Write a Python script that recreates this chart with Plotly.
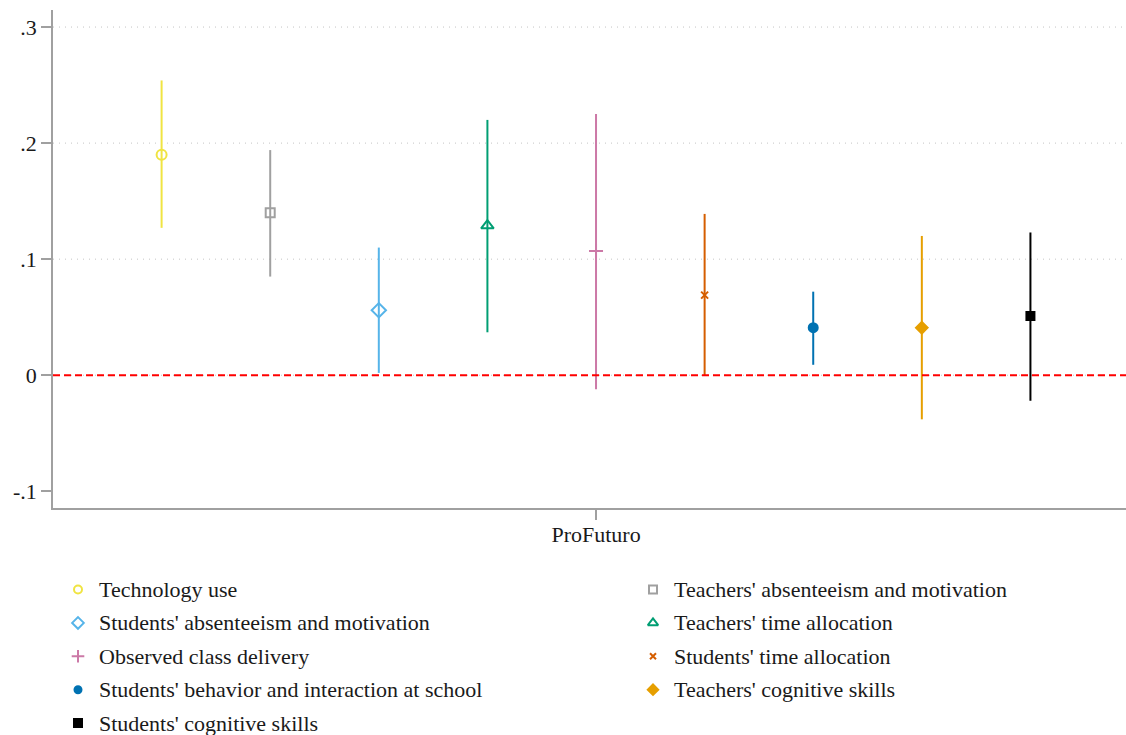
import plotly.graph_objects as go

# Outcome families estimated for ProFuturo: point estimate and 95% CI bounds
outcomes = [
    "Technology use",
    "Teachers' absenteeism and motivation",
    "Students' absenteeism and motivation",
    "Teachers' time allocation",
    "Observed class delivery",
    "Students' time allocation",
    "Students' behavior and interaction at school",
    "Teachers' cognitive skills",
    "Students' cognitive skills",
]
estimates = [0.190, 0.140, 0.056, 0.129, 0.107, 0.069, 0.041, 0.041, 0.051]
ci_upper = [0.254, 0.194, 0.110, 0.220, 0.225, 0.139, 0.072, 0.120, 0.123]
ci_lower = [0.127, 0.085, 0.002, 0.037, -0.012, 0.000, 0.009, -0.038, -0.022]
offsets = [-4, -3, -2, -1, 0, 1, 2, 3, 4]

colors = ["#F0E442", "#A0A0A0", "#56B4E9", "#009E73", "#CC79A7",
          "#D55E00", "#0072B2", "#E69F00", "#000000"]
symbols = ["circle-open", "square-open", "diamond-open", "triangle-up-open",
           "cross-thin-open", "x-thin-open", "circle", "diamond", "square"]
sizes = [10, 9, 11, 11, 10, 7, 9, 9, 8]
key_sizes = [8, 8, 9, 9, 9, 6, 7, 8, 8]

y_ticks = [-0.1, 0, 0.1, 0.2, 0.3]
y_tick_labels = ["-.1", "0", ".1", ".2", ".3"]
grid_values = [0, 0.1, 0.2, 0.3]
group_label = "ProFuturo"

FONT = "Liberation Serif"
TEXT = "#1a1a1a"
AXIS = "#A0A0A0"
W, H = 1126, 735

# plot region in pixels
PL, PT, PB = 53, 10, 508

fig = go.Figure()

# dotted gridlines, drawn below the markers
for g in grid_values:
    fig.add_shape(type="line", xref="x domain", x0=0, x1=1, yref="y", y0=g, y1=g,
                  line=dict(color="#C4C4C4", width=1, dash="1px,5px"), layer="below")

# reference line at zero
fig.add_shape(type="line", xref="x domain", x0=0, x1=1, yref="y", y0=0, y1=0,
              line=dict(color="#FF0000", width=1.8, dash="7px,4px"), layer="above")

for name, est, hi, lo, off, c, sym, sz in zip(outcomes, estimates, ci_upper, ci_lower,
                                             offsets, colors, symbols, sizes):
    fig.add_trace(go.Scatter(
        x=[off], y=[est], name=name, mode="markers", showlegend=False,
        marker=dict(symbol=sym, size=sz, color=c, line=dict(color=c, width=2)),
        error_y=dict(type="data", symmetric=False, array=[hi - est],
                     arrayminus=[est - lo], color=c, thickness=2, width=0),
        cliponaxis=False,
    ))

# two-column key below the plot, laid out in pixel units on a helper axis pair
KEY_X = [78, 653]
KEY_Y0, KEY_DY = 589.5, 33.4
for i, (name, c, sym, ks) in enumerate(zip(outcomes, colors, symbols, key_sizes)):
    col, row = i % 2, i // 2
    kx, ky = KEY_X[col], KEY_Y0 + row * KEY_DY
    fig.add_trace(go.Scatter(
        x=[kx], y=[ky], mode="markers", showlegend=False, hoverinfo="skip",
        xaxis="x2", yaxis="y2", cliponaxis=False,
        marker=dict(symbol=sym, size=ks, color=c, line=dict(color=c, width=2)),
    ))
    fig.add_annotation(x=kx + 19, y=ky, xref="x2", yref="y2", text=name,
                       showarrow=False, xanchor="left", yanchor="middle",
                       font=dict(family=FONT, size=22, color=TEXT))

fig.update_layout(
    width=W, height=H,
    margin=dict(l=0, r=0, t=0, b=0),
    paper_bgcolor="white", plot_bgcolor="rgba(0,0,0,0)",
    font=dict(family=FONT, size=22, color=TEXT),
    showlegend=False,
    xaxis=dict(
        domain=[PL / W, 1], range=[-5.0, 4.88], showgrid=False, zeroline=False,
        showline=True, linecolor=AXIS, linewidth=1.5, automargin=False,
        tickmode="array", tickvals=[0], ticktext=[group_label],
        ticks="outside", ticklen=10, tickcolor=AXIS, tickwidth=1.5,
        ticklabelstandoff=-4,
        tickfont=dict(family=FONT, size=22, color=TEXT),
    ),
    yaxis=dict(
        domain=[(H - PB) / H, (H - PT) / H], range=[-0.1144, 0.3147],
        showgrid=False, zeroline=False,
        showline=True, linecolor=AXIS, linewidth=1.5, automargin=False,
        tickmode="array", tickvals=y_ticks, ticktext=y_tick_labels,
        ticks="outside", ticklen=10, tickcolor=AXIS, tickwidth=1.5,
        tickfont=dict(family=FONT, size=22, color=TEXT),
    ),
    xaxis2=dict(domain=[0, 1], range=[0, W], visible=False, fixedrange=True,
                anchor="y2"),
    yaxis2=dict(domain=[0, (H - PB) / H], range=[H, PB], visible=False,
                fixedrange=True, anchor="x2"),
)

fig.write_html("out.html")
